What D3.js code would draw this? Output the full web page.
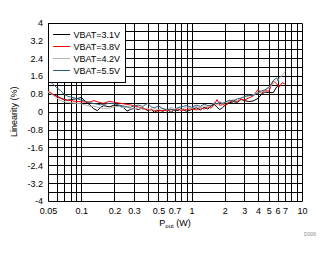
<!DOCTYPE html>
<html>
<head>
<meta charset="utf-8">
<script src="https://cdn.jsdelivr.net/npm/d3@7"></script>
<style>
  body { margin: 0; background: #fff; }
  text { font-family: "Liberation Sans", Arial, sans-serif; }
</style>
</head>
<body>
<script>
// x values (W) shared by all series
var pout = [0.05,0.055,0.06,0.065,0.07,0.075,0.08,0.09,0.1,0.11,0.12,0.13,0.14,0.15,0.16,0.18,0.2,0.22,0.24,0.26,
  0.28,0.3,0.33,0.36,0.4,0.43,0.46,0.5,0.55,0.6,0.65,0.7,0.75,0.8,0.9,1,1.1,1.2,1.3,1.4,
  1.5,1.6,1.7,1.8,1.9,2,2.2,2.4,2.6,2.8,3,3.3,3.6,4,4.3,4.6,5,5.5,5.9,6.2,6.6,7];

var vbat31 = [0.90,0.78,0.70,0.62,0.55,0.52,0.54,0.58,0.64,0.45,0.30,0.13,0.05,0.20,0.27,0.22,0.30,0.26,0.20,0.03,
  0.10,0.16,0.10,0.18,0.06,0.10,-0.02,0.08,0.02,0.12,-0.03,0.10,0.05,0.14,0.02,0.10,0.18,0.08,0.20,0.12,
  0.25,0.34,0.20,0.10,0.18,0.28,0.40,0.45,0.42,0.55,0.50,0.46,0.48,0.60,0.78,0.88,0.86,0.86,1.12,1.18,null,null];

var vbat38 = [0.92,0.80,0.68,0.60,0.55,0.51,0.50,0.46,0.45,0.43,0.44,0.50,0.45,0.40,0.38,0.47,0.42,0.39,0.36,0.33,
  0.30,0.26,0.22,0.14,0.08,0.12,0.05,0.03,0.07,0.04,0.10,0.06,0.12,0.05,0.10,0.14,0.08,0.18,0.12,0.22,
  0.16,0.30,0.55,0.28,0.32,0.30,0.44,0.50,0.46,0.56,0.52,0.62,0.70,1.00,0.82,0.95,0.92,1.38,1.25,1.10,1.30,1.25];

var vbat42 = [0.88,0.76,0.62,0.50,0.46,0.42,0.40,0.38,0.35,0.30,0.24,0.26,0.20,0.18,0.14,0.16,0.22,0.24,0.18,0.22,
  0.14,0.12,0.20,0.10,0.16,0.06,0.14,0.10,0.16,0.08,0.20,0.12,0.18,0.08,0.22,0.14,0.24,0.16,0.28,0.20,
  0.32,0.38,0.30,0.42,0.36,0.40,0.48,0.55,0.50,0.62,0.66,0.70,0.76,0.84,0.90,0.96,1.06,1.28,1.35,1.50,1.62,1.80];

var vbat55 = [1.45,1.25,1.08,0.95,0.78,0.70,0.66,0.60,0.52,0.46,0.40,0.37,0.34,0.31,0.33,0.38,0.36,0.30,0.26,0.22,
  0.20,0.26,0.30,0.24,0.38,0.22,0.18,0.26,0.14,0.08,0.12,0.06,0.18,0.22,0.28,0.20,0.30,0.24,0.34,0.28,
  0.26,0.40,0.36,0.44,0.38,0.42,0.52,0.48,0.58,0.60,0.68,0.74,0.72,0.86,0.94,0.98,1.10,1.40,1.52,1.32,null,null];

var seriesNames = ["VBAT=3.1V","VBAT=3.8V","VBAT=4.2V","VBAT=5.5V"];
var seriesColors = ["#000000","#ff0000","#b4b4b4","#2f5f78"];

var xTickLabels = [0.05,0.1,0.2,0.3,0.5,0.7,1,2,3,4,5,6,7,10];
var xGrid = [0.05,0.06,0.07,0.08,0.09,0.1,0.2,0.3,0.4,0.5,0.6,0.7,0.8,0.9,1,2,3,4,5,6,7,8,9,10];
var yTicks = [-4,-3.2,-2.4,-1.6,-0.8,0,0.8,1.6,2.4,3.2,4];
var yGrid = d3.range(-4, 4.001, 0.4);

var W = 331, H = 254;
var pLeft = 48, pRight = 302, pTop = 22.5, pBottom = 201;

var svg = d3.select("body").append("svg")
    .attr("width", W).attr("height", H);

var x = d3.scaleLog().domain([0.05, 10]).range([pLeft, pRight]);
var y = d3.scaleLinear().domain([-4, 4]).range([pBottom, pTop]);

// grid
var grid = svg.append("g");
grid.selectAll(".vg").data(xGrid).enter().append("line")
    .attr("x1", d => Math.round(x(d)) + 0.5).attr("x2", d => Math.round(x(d)) + 0.5)
    .attr("y1", Math.round(pTop) + 0.5).attr("y2", Math.round(pBottom) + 0.5)
    .attr("stroke", "#000").attr("stroke-width", 1);
grid.selectAll(".hg").data(yGrid).enter().append("line")
    .attr("y1", d => Math.round(y(d)) + 0.5).attr("y2", d => Math.round(y(d)) + 0.5)
    .attr("x1", Math.round(pLeft) + 0.5).attr("x2", Math.round(pRight) + 0.5)
    .attr("stroke", "#000").attr("stroke-width", 1);

// axes (labels only)
var xAxis = d3.axisBottom(x).tickValues(xTickLabels).tickSize(0).tickPadding(7)
    .tickFormat(d => String(d));
var xAxisG = svg.append("g").attr("transform", `translate(0,${Math.round(pBottom)})`).call(xAxis);
xAxisG.select(".domain").remove();
xAxisG.selectAll("text").attr("font-size", 9).attr("fill", "#000")
    .style("font-family", "'Liberation Sans', Arial, sans-serif");

var yAxis = d3.axisLeft(y).tickValues(yTicks).tickSize(0).tickPadding(5)
    .tickFormat(d => String(d));
var yAxisG = svg.append("g").attr("transform", `translate(${pLeft},0)`).call(yAxis);
yAxisG.select(".domain").remove();
yAxisG.selectAll("text").attr("font-size", 9).attr("fill", "#000")
    .style("font-family", "'Liberation Sans', Arial, sans-serif");

// data lines
var allSeries = [vbat31, vbat38, vbat42, vbat55];
var line = d3.line()
    .defined(d => d[1] != null)
    .x(d => x(d[0]))
    .y(d => y(d[1]));

var plot = svg.append("g");
allSeries.forEach(function(vals, i) {
  var pts = pout.map((p, j) => [p, vals[j]]);
  plot.append("path")
    .datum(pts)
    .attr("fill", "none")
    .attr("stroke", seriesColors[i])
    .attr("stroke-width", 1)
    .attr("d", line);
});

// legend
var lg = svg.append("g");
lg.append("rect")
    .attr("x", Math.round(pLeft) + 0.5).attr("y", Math.round(pTop) + 0.5)
    .attr("width", 77).attr("height", 59)
    .attr("fill", "#fff").attr("stroke", "#000");
seriesNames.forEach(function(name, i) {
  var ly = 34.5 + i * 12;
  lg.append("line")
    .attr("x1", 53).attr("x2", 70)
    .attr("y1", ly).attr("y2", ly)
    .attr("stroke", seriesColors[i]).attr("stroke-width", 1);
  lg.append("text")
    .attr("x", 73.5).attr("y", ly + 3.2)
    .attr("font-size", 9)
    .text(name);
});

// axis titles
svg.append("text")
    .attr("transform", `translate(17,${(pTop + pBottom) / 2}) rotate(-90)`)
    .attr("text-anchor", "middle")
    .attr("font-size", 9)
    .text("Linearity (%)");

var xt = svg.append("text")
    .attr("x", 175).attr("y", 226)
    .attr("text-anchor", "middle")
    .attr("font-size", 9);
xt.append("tspan").text("P");
xt.append("tspan").attr("font-size", 6).attr("dy", 1.5).text("out");
xt.append("tspan").attr("dy", -1.5).text(" (W)");

svg.append("text")
    .attr("x", 316).attr("y", 236)
    .attr("text-anchor", "end")
    .attr("font-size", 5)
    .attr("fill", "#888")
    .text("D006");
</script>
</body>
</html>
